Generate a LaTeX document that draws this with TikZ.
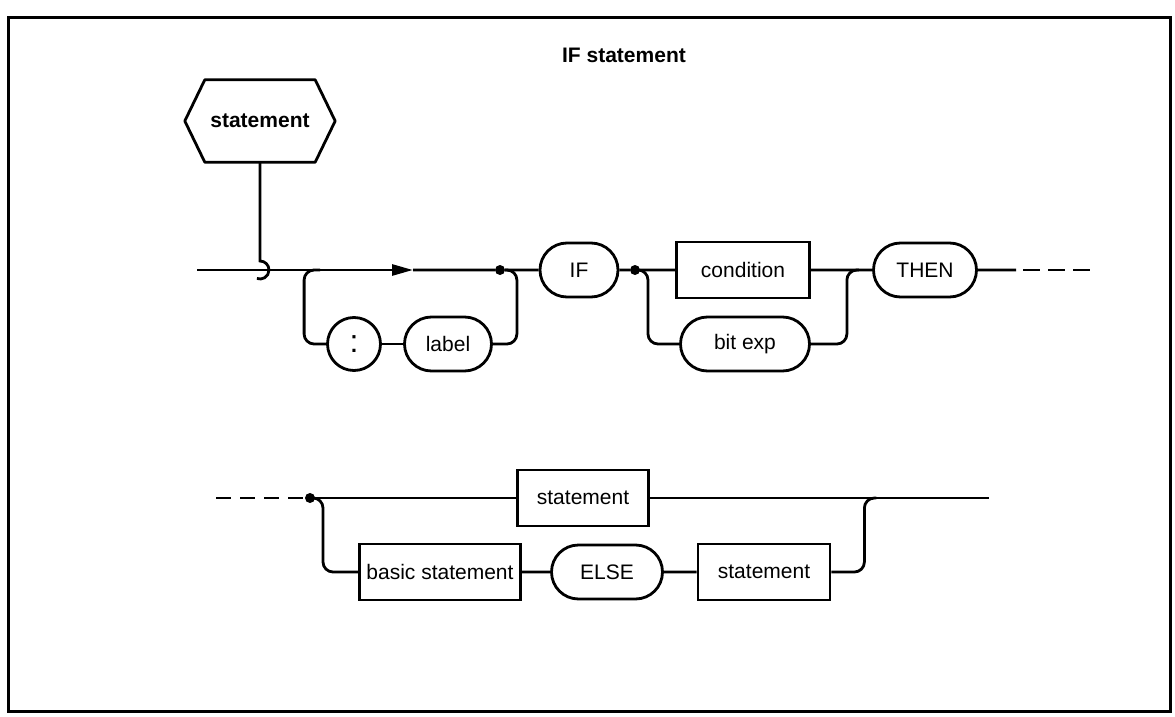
\documentclass[tikz,border=0pt]{standalone}
\usepackage{fontspec}
\setmainfont{Liberation Sans}
\usetikzlibrary{arrows.meta,shapes.misc}

\begin{document}
\begin{tikzpicture}[
    x=1pt, y=-1pt,
    every node/.style={font=\fontsize{21}{25}\selectfont, inner sep=0pt},
    line/.style={line width=2.8pt},
    term/.style={draw, line width=2.8pt, rounded rectangle, minimum height=54pt},
    nonterm/.style={draw, line width=2.8pt, minimum height=56pt},
    dot/.style={circle, fill, minimum size=10pt},
    branch/.style={line width=2.8pt, rounded corners=10pt},
    tail/.style={line width=2.8pt, dash pattern=on 17pt off 8pt},
    tailin/.style={line width=2.8pt, dash pattern=on 15pt off 9pt}
  ]
  \useasboundingbox (0,0) rectangle (1175,717);
  \draw[line width=3pt] (8,18) rectangle (1170,711);
  \node[font=\bfseries\fontsize{21}{25}\selectfont] (title) at (624,55) {IF statement};

  % defined symbol
  \node[minimum width=150pt, minimum height=82pt, font=\bfseries\fontsize{21}{25}\selectfont] (hex) at (260,121) {statement};
  \draw[line, line join=round] (hex.west) -- ([xshift=20pt]hex.north west) -- ([xshift=-20pt]hex.north east)
    -- (hex.east) -- ([xshift=-20pt]hex.south east) -- ([xshift=20pt]hex.south west) -- cycle;
  \coordinate (hook) at (260,261);
  \draw[line] (hex.south) -- (hook) arc[start angle=-90, end angle=110, radius=9];

  % first row
  \coordinate (in) at (197,270);
  \coordinate (tip) at (413,270);
  \node[dot] (d1) at (500,270) {};
  \node[draw, circle, line width=2.8pt, minimum size=53pt, font=\fontsize{32}{34}\selectfont] (colon) at (354,344) {:};
  \node[term, minimum width=87pt] (label) at (448,344) {label};
  \node[term, minimum width=78pt] (if) at (579,270) {IF};
  \node[dot] (d2) at (635,270) {};
  \node[nonterm, minimum width=133pt] (cond) at (743,270) {condition};
  \node[term, minimum width=129pt] (bitexp) at (745,344) {bit exp};
  \node[term, minimum width=103pt] (then) at (925,270) {THEN};
  \coordinate (t1) at (1016,270);
  \coordinate (t2) at (1023,270);
  \coordinate (t3) at (1090,270);
  \draw[line, -{Triangle[length=21pt, width=11pt]}] (in) -- (tip);
  \draw[line] (tip) -- (d1) -- (if) -- (d2) -- (cond) -- (then) -- (t1);
  \draw[tail] (t2) -- (t3);
  \draw[branch] (colon.west) -- ++(-22,0) |- ++(16,-74);
  \draw[line] (colon) -- (label);
  \draw[branch] (label.east) -- ++(24,0) |- (d1);
  \draw[branch] (d2) -- ++(13,0) |- (bitexp);
  \draw[branch] (bitexp.east) -- ++(36,0) |- ++(12,-74);

  % second row
  \coordinate (in2) at (216,498);
  \node[dot] (d3) at (310,498) {};
  \node[nonterm, minimum width=131pt] (stmt) at (583,498) {statement};
  \coordinate (out2) at (989,498);
  \node[nonterm, minimum width=161pt] (basic) at (440,572) {basic statement};
  \node[term, minimum width=111pt] (else) at (607,572) {ELSE};
  \node[nonterm, minimum width=132pt] (stmt2) at (764,572) {statement};
  \draw[tailin] (in2) -- (d3);
  \draw[line] (d3) -- (stmt) -- (out2);
  \draw[branch] (d3) -- ++(13,0) |- (basic);
  \draw[line] (basic) -- (else) -- (stmt2);
  \draw[branch] (stmt2.east) -- ++(33,0) |- ++(12,-74);
\end{tikzpicture}
\end{document}
